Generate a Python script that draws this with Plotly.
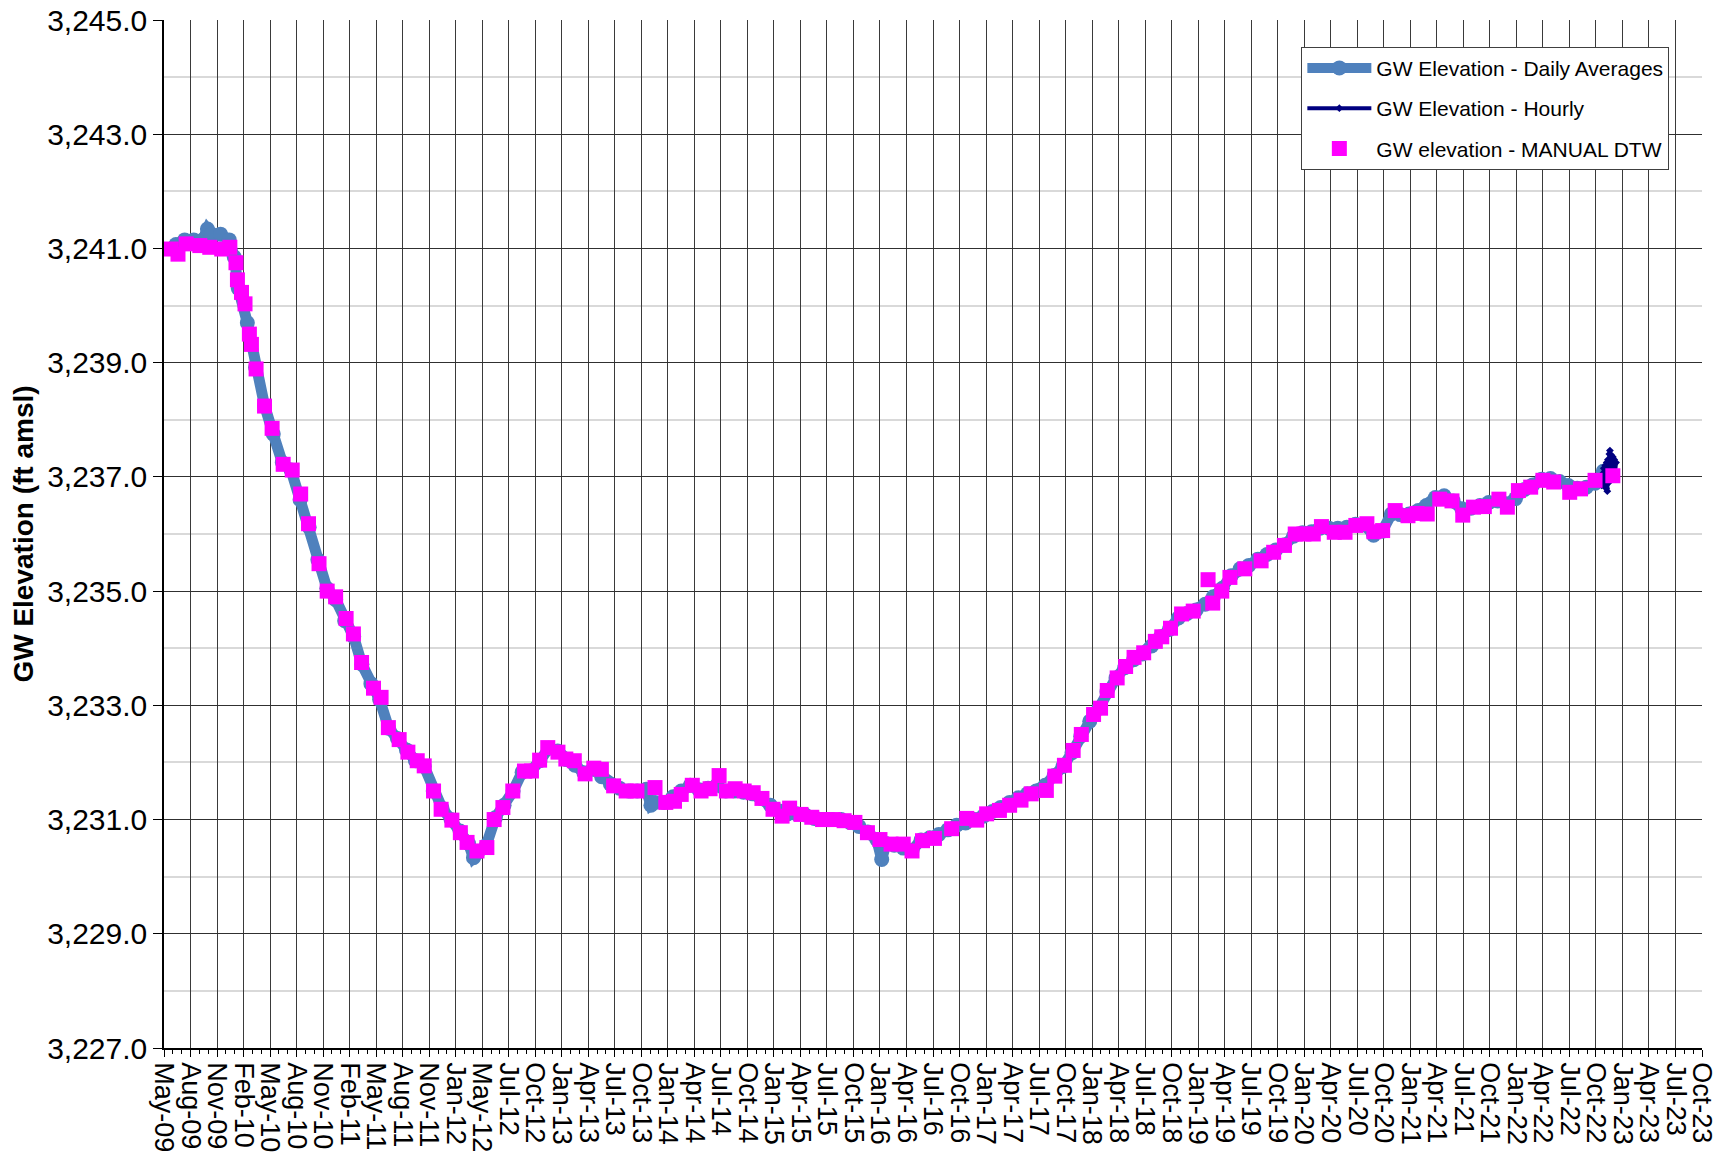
import pandas as pd
import plotly.graph_objects as go

# ---------------- data ----------------
daily_dates = [
    "2009-06-15", "2009-07-15", "2009-08-15", "2009-09-15", "2009-10-01", "2009-10-15", "2009-11-15", "2009-12-15",
    "2010-01-01", "2010-01-15", "2010-02-15", "2010-03-15", "2010-04-15", "2010-05-15", "2010-06-15", "2010-07-15",
    "2010-08-15", "2010-09-15", "2010-10-15", "2010-11-15", "2010-12-15",
    "2011-01-15", "2011-02-15", "2011-03-15", "2011-04-15", "2011-05-15", "2011-06-15", "2011-07-15", "2011-08-15",
    "2011-09-15", "2011-10-15", "2011-11-15", "2011-12-15",
    "2012-01-15", "2012-02-15", "2012-03-15", "2012-04-01", "2012-04-15", "2012-05-15", "2012-06-15", "2012-07-15",
    "2012-08-15", "2012-09-15", "2012-10-15", "2012-11-15", "2012-12-15",
    "2013-01-15", "2013-02-15", "2013-03-15", "2013-04-15", "2013-05-15", "2013-06-15", "2013-07-15", "2013-08-15",
    "2013-09-15", "2013-10-15", "2013-11-15", "2013-12-01", "2013-12-15",
    "2014-01-15", "2014-02-15", "2014-03-15", "2014-04-15", "2014-05-15", "2014-06-15", "2014-07-15", "2014-08-15",
    "2014-09-15", "2014-10-15", "2014-11-15", "2014-12-15",
    "2015-01-15", "2015-02-15", "2015-03-15", "2015-04-15", "2015-05-15", "2015-06-15", "2015-07-15", "2015-08-15",
    "2015-09-15", "2015-10-15", "2015-11-15", "2015-12-15",
    "2016-01-15", "2016-02-01", "2016-02-15", "2016-03-15", "2016-04-15", "2016-05-15", "2016-06-15", "2016-07-15",
    "2016-08-15", "2016-09-15", "2016-10-15", "2016-11-15", "2016-12-15",
    "2017-01-15", "2017-02-15", "2017-03-15", "2017-04-15", "2017-05-15", "2017-06-15", "2017-07-15", "2017-08-15",
    "2017-09-15", "2017-10-15", "2017-11-15", "2017-12-15",
    "2018-01-15", "2018-02-15", "2018-03-15", "2018-04-15", "2018-05-15", "2018-06-15", "2018-07-15", "2018-08-15",
    "2018-09-15", "2018-10-15", "2018-11-15", "2018-12-15",
    "2019-01-15", "2019-02-15", "2019-03-15", "2019-04-15", "2019-05-15", "2019-06-15", "2019-07-15", "2019-08-15",
    "2019-09-15", "2019-10-15", "2019-11-15", "2019-12-15",
    "2020-01-15", "2020-02-15", "2020-03-15", "2020-04-15", "2020-05-15", "2020-06-15", "2020-07-15", "2020-08-15",
    "2020-09-15", "2020-10-15", "2020-11-15", "2020-12-15",
    "2021-01-15", "2021-02-15", "2021-03-15", "2021-04-15", "2021-05-15", "2021-06-15", "2021-07-15", "2021-08-15",
    "2021-09-15", "2021-10-15", "2021-11-15", "2021-12-15",
    "2022-01-15", "2022-02-15", "2022-03-15", "2022-04-15", "2022-05-15", "2022-06-15", "2022-07-15", "2022-08-15",
    "2022-09-15", "2022-10-15", "2022-11-05", "2022-11-12",
]
daily_elev = [
    3241.07, 3241.15, 3241.15, 3241.15, 3241.34, 3241.25, 3241.25, 3241.15,
    3240.85, 3240.30, 3239.70, 3238.92, 3238.25, 3237.75, 3237.25, 3237.12,
    3236.60, 3236.12, 3235.55, 3235.05, 3234.85,
    3234.48, 3234.20, 3233.72, 3233.38, 3233.10, 3232.60, 3232.42, 3232.22,
    3232.03, 3231.93, 3231.50, 3231.20,
    3231.00, 3230.80, 3230.58, 3230.33, 3230.42, 3230.55, 3231.03, 3231.25,
    3231.50, 3231.83, 3231.85, 3232.03, 3232.25,
    3232.20, 3232.05, 3231.95, 3231.82, 3231.88, 3231.75, 3231.62, 3231.55,
    3231.50, 3231.50, 3231.53, 3231.25, 3231.30,
    3231.30, 3231.40, 3231.50, 3231.60, 3231.52, 3231.55, 3231.60, 3231.50,
    3231.50, 3231.48, 3231.45, 3231.37,
    3231.25, 3231.15, 3231.10, 3231.10, 3231.08, 3231.02, 3231.00, 3231.00,
    3231.00, 3230.95, 3230.88, 3230.78,
    3230.65, 3230.30, 3230.58, 3230.55, 3230.50, 3230.46, 3230.64, 3230.68,
    3230.74, 3230.82, 3230.90, 3230.94, 3231.00,
    3231.06, 3231.14, 3231.21, 3231.30, 3231.38, 3231.45, 3231.50, 3231.60,
    3231.77, 3231.93, 3232.17, 3232.46,
    3232.72, 3232.95, 3233.24, 3233.48, 3233.66, 3233.80, 3233.90, 3234.04,
    3234.20, 3234.33, 3234.53, 3234.61,
    3234.67, 3234.77, 3234.90, 3235.05, 3235.27, 3235.39, 3235.45, 3235.56,
    3235.64, 3235.72, 3235.81, 3235.96,
    3236.02, 3236.04, 3236.10, 3236.10, 3236.10, 3236.12, 3236.17, 3236.16,
    3235.98, 3236.05, 3236.35, 3236.34,
    3236.35, 3236.41, 3236.50, 3236.64, 3236.67, 3236.58, 3236.44, 3236.45,
    3236.50, 3236.55, 3236.58, 3236.53,
    3236.62, 3236.78, 3236.86, 3236.96, 3236.97, 3236.92, 3236.85, 3236.80,
    3236.82, 3236.89, 3236.95, 3237.10,
]

hourly_dates = [
    "2022-11-07", "2022-11-09", "2022-11-12", "2022-11-14", "2022-11-17", "2022-11-19", "2022-11-22",
    "2022-11-24", "2022-11-26", "2022-11-28", "2022-12-01", "2022-12-03", "2022-12-05", "2022-12-08",
    "2022-12-10", "2022-12-13", "2022-12-15", "2022-12-18", "2022-12-20", "2022-12-23", "2022-12-26",
]
hourly_elev = [
    3236.85, 3237.05, 3236.90, 3237.15, 3236.85, 3237.20, 3236.80,
    3237.25, 3236.75, 3237.30, 3236.90, 3237.40, 3237.46, 3237.05,
    3237.38, 3237.10, 3237.35, 3237.05, 3237.30, 3237.10, 3237.25,
]

manual_dates = [
    "2009-05-30", "2009-06-22", "2009-07-20", "2009-09-05", "2009-10-09", "2009-11-19", "2009-12-17",
    "2010-01-07", "2010-01-12", "2010-01-26", "2010-02-07", "2010-02-22", "2010-03-01", "2010-03-17",
    "2010-04-15", "2010-05-11", "2010-06-18", "2010-07-19", "2010-08-17", "2010-09-13", "2010-10-19",
    "2010-11-16", "2010-12-15", "2011-01-20", "2011-02-14", "2011-03-14", "2011-04-24", "2011-05-20",
    "2011-06-14", "2011-07-21", "2011-08-20", "2011-09-21", "2011-10-15", "2011-11-16", "2011-12-12",
    "2012-01-18", "2012-02-16", "2012-03-10", "2012-04-13", "2012-05-17", "2012-06-11", "2012-07-11",
    "2012-08-14", "2012-09-23", "2012-10-17", "2012-11-14", "2012-12-12", "2013-01-16", "2013-02-12",
    "2013-03-13", "2013-04-19", "2013-05-19", "2013-06-14", "2013-07-26", "2013-09-07", "2013-10-14",
    "2013-12-15", "2014-01-21", "2014-02-20", "2014-03-15", "2014-04-22", "2014-05-22", "2014-06-22",
    "2014-07-23", "2014-08-17", "2014-09-16", "2014-10-17", "2014-11-17", "2014-12-17", "2015-01-24",
    "2015-02-24", "2015-03-22", "2015-04-30", "2015-06-06", "2015-07-13", "2015-08-19", "2015-09-25",
    "2015-11-01", "2015-12-14", "2016-01-26", "2016-03-04", "2016-04-15", "2016-05-15", "2016-06-20",
    "2016-07-31", "2016-09-28", "2016-11-19", "2016-12-23", "2017-01-26", "2017-03-11", "2017-04-15",
    "2017-05-24", "2017-06-28", "2017-08-19", "2017-09-17", "2017-10-20", "2017-11-19", "2017-12-17",
    "2018-01-28", "2018-02-21", "2018-03-16", "2018-04-19", "2018-05-18", "2018-06-16", "2018-07-19",
    "2018-08-28", "2018-09-19", "2018-10-19", "2018-11-26", "2019-01-05", "2019-02-25", "2019-03-13",
    "2019-04-13", "2019-05-11", "2019-07-01", "2019-08-26", "2019-10-08", "2019-11-14", "2019-12-21",
    "2020-01-20", "2020-02-21", "2020-03-20", "2020-05-03", "2020-06-09", "2020-07-16", "2020-08-23",
    "2020-09-16", "2020-10-16", "2020-11-28", "2021-01-11", "2021-02-11", "2021-03-18", "2021-04-30",
    "2021-06-11", "2021-07-18", "2021-08-24", "2021-09-30", "2021-11-19", "2021-12-18", "2022-01-25",
    "2022-03-08", "2022-04-19", "2022-05-26", "2022-07-20", "2022-08-26", "2022-10-15", "2022-12-15",
]
manual_elev = [
    3240.99, 3240.90, 3241.08, 3241.05, 3241.02, 3240.99, 3241.02,
    3240.75, 3240.45, 3240.23, 3240.03, 3239.50, 3239.32, 3238.89,
    3238.24, 3237.85, 3237.22, 3237.12, 3236.70, 3236.18, 3235.48,
    3235.00, 3234.90, 3234.52, 3234.25, 3233.75, 3233.30, 3233.14,
    3232.61, 3232.40, 3232.18, 3232.03, 3231.94, 3231.50, 3231.18,
    3230.99, 3230.77, 3230.60, 3230.45, 3230.51, 3231.00, 3231.21,
    3231.50, 3231.85, 3231.85, 3232.04, 3232.26, 3232.18, 3232.06,
    3232.03, 3231.80, 3231.90, 3231.88, 3231.59, 3231.50, 3231.50,
    3231.56, 3231.30, 3231.32, 3231.44, 3231.60, 3231.50, 3231.54,
    3231.77, 3231.50, 3231.54, 3231.50, 3231.47, 3231.37, 3231.18,
    3231.06, 3231.20, 3231.09, 3231.04, 3231.00, 3231.00, 3230.98,
    3230.95, 3230.77, 3230.65, 3230.57, 3230.57, 3230.45, 3230.63,
    3230.67, 3230.84, 3231.02, 3230.99, 3231.10, 3231.16, 3231.25,
    3231.34, 3231.45, 3231.51, 3231.76, 3231.95, 3232.21, 3232.49,
    3232.84, 3232.95, 3233.26, 3233.48, 3233.68, 3233.84, 3233.92,
    3234.12, 3234.20, 3234.35, 3234.60, 3234.65, 3235.20, 3234.79,
    3235.00, 3235.24, 3235.39, 3235.53, 3235.68, 3235.80, 3236.00,
    3236.00, 3236.00, 3236.13, 3236.03, 3236.03, 3236.15, 3236.18,
    3236.04, 3236.06, 3236.41, 3236.32, 3236.36, 3236.35, 3236.61,
    3236.58, 3236.33, 3236.47, 3236.48, 3236.61, 3236.47, 3236.76,
    3236.82, 3236.94, 3236.91, 3236.73, 3236.79, 3236.94, 3237.02,
]

tick_labels = [
    "May-09", "Aug-09", "Nov-09", "Feb-10", "May-10", "Aug-10", "Nov-10", "Feb-11", "May-11", "Aug-11",
    "Nov-11", "Jan-12", "May-12", "Jul-12", "Oct-12", "Jan-13", "Apr-13", "Jul-13", "Oct-13", "Jan-14",
    "Apr-14", "Jul-14", "Oct-14", "Jan-15", "Apr-15", "Jul-15", "Oct-15", "Jan-16", "Apr-16", "Jul-16",
    "Oct-16", "Jan-17", "Apr-17", "Jul-17", "Oct-17", "Jan-18", "Apr-18", "Jul-18", "Oct-18", "Jan-19",
    "Apr-19", "Jul-19", "Oct-19", "Jan-20", "Apr-20", "Jul-20", "Oct-20", "Jan-21", "Apr-21", "Jul-21",
    "Oct-21", "Jan-22", "Apr-22", "Jul-22", "Oct-22", "Jan-23", "Apr-23", "Jul-23", "Oct-23",
]
axis_start = "2009-05-05"
tick_step_days = 91

# ---------------- axis scale helpers ----------------
t0 = pd.Timestamp(axis_start)
tick_vals = [t0 + pd.Timedelta(days=tick_step_days * k) for k in range(len(tick_labels))]
x_range = [tick_vals[0], tick_vals[-1]]
minor_step_ms = tick_step_days / 3 * 86400000

FONT = "Arial, Liberation Sans, sans-serif"

fig = go.Figure()
fig.add_trace(go.Scatter(
    x=daily_dates, y=daily_elev, mode="lines+markers",
    name="GW Elevation - Daily Averages", legendgroup="a",
    line=dict(color="#4F81BD", width=11),
    marker=dict(color="#4F81BD", size=15, symbol="circle"),
))
fig.add_trace(go.Scatter(
    x=hourly_dates, y=hourly_elev, mode="lines+markers",
    name="GW Elevation - Hourly", legendgroup="b",
    line=dict(color="#000080", width=4),
    marker=dict(color="#000080", size=6, symbol="diamond"),
))
fig.add_trace(go.Scatter(
    x=manual_dates, y=manual_elev, mode="markers",
    name="GW elevation - MANUAL DTW", legendgroup="c",
    marker=dict(color="#FF00FF", size=15, symbol="square"),
))

fig.update_layout(
    width=1722, height=1159,
    margin=dict(l=164, r=20, t=20, b=111),
    paper_bgcolor="white", plot_bgcolor="white",
    font=dict(family=FONT, color="black"),
    showlegend=True,
    legend=dict(
        x=0.7395, y=0.974, xanchor="left", yanchor="top",
        font=dict(size=21, family=FONT, color="black"),
        bgcolor="white", bordercolor="#404040", borderwidth=1,
        tracegroupgap=10, itemwidth=64,
    ),
)
fig.update_xaxes(
    type="date", range=x_range, automargin=False, ticklabeloverflow="allow",
    tickmode="array", tickvals=tick_vals, ticktext=tick_labels,
    tickangle=90, tickfont=dict(size=27, family=FONT, color="black"),
    ticks="outside", ticklen=7, tickcolor="black", tickwidth=1,
    showgrid=True, gridcolor="#3a3a3a", gridwidth=1,
    showline=True, linecolor="black", linewidth=1.5,
    zeroline=False,
    minor=dict(tick0=t0, dtick=minor_step_ms, ticks="outside", ticklen=4,
               tickcolor="black", showgrid=False),
)
fig.update_yaxes(
    range=[3227, 3245], tick0=3227, dtick=2, tickformat=",.1f", automargin=False,
    ticklabeloverflow="allow",
    tickfont=dict(size=30, family=FONT, color="black"),
    ticks="outside", ticklen=9, tickcolor="black",
    showgrid=True, gridcolor="#303030", gridwidth=1,
    showline=True, linecolor="black", linewidth=1.5,
    zeroline=False,
    minor=dict(dtick=1, showgrid=True, gridcolor="#d9d9d9", gridwidth=2, ticks=""),
    title=dict(text="<b>GW Elevation (ft amsl)</b>", font=dict(size=28, family=FONT, color="black"),
               standoff=5),
)

# remove the default page margin so the figure fills the window exactly
fig.write_html("out.html", config={"displayModeBar": False},
               post_script="document.body.style.margin='0';")
